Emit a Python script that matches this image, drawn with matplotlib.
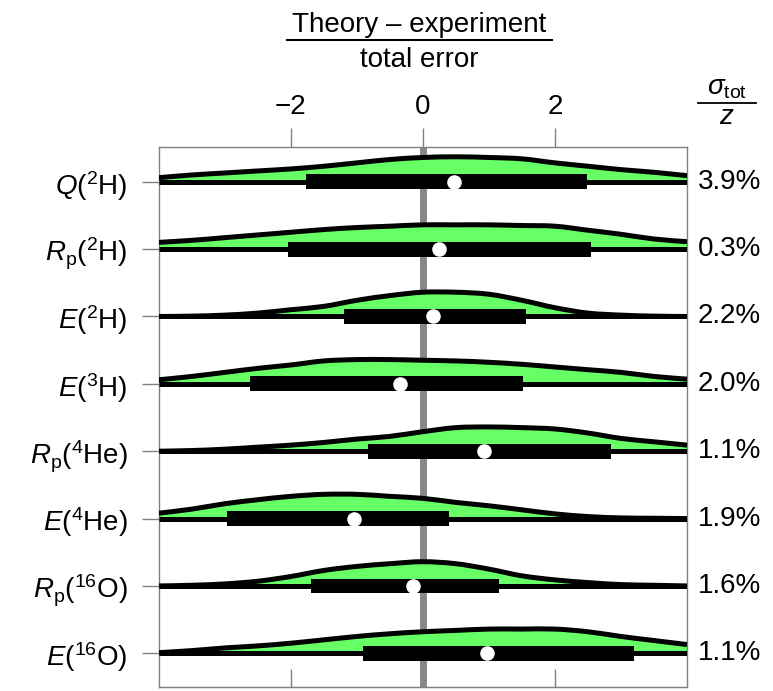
import numpy as np
import matplotlib
matplotlib.use('Agg')
import matplotlib.pyplot as plt
from matplotlib.lines import Line2D
from matplotlib.path import Path
from matplotlib.patches import PathPatch
import matplotlib.transforms as mtransforms

plt.rcParams['font.family'] = ['Liberation Sans', 'DejaVu Sans']
plt.rcParams['mathtext.fontset'] = 'custom'
plt.rcParams['mathtext.rm'] = 'Liberation Sans'
plt.rcParams['mathtext.it'] = 'Liberation Sans:italic'
plt.rcParams['mathtext.bf'] = 'Liberation Sans:bold'

# row labels, top to bottom
labels = [r'$Q(^{2}\mathrm{H})$', r'$R_{\mathrm{p}}(^{2}\mathrm{H})$',
          r'$E(^{2}\mathrm{H})$', r'$E(^{3}\mathrm{H})$',
          r'$R_{\mathrm{p}}(^{4}\mathrm{He})$', r'$E(^{4}\mathrm{He})$',
          r'$R_{\mathrm{p}}(^{16}\mathrm{O})$', r'$E(^{16}\mathrm{O})$']
sigma_pct = ['3.9%', '0.3%', '2.2%', '2.0%', '1.1%', '1.9%', '1.6%', '1.1%']

# interval (black bar) and median (white dot)
lo = [-1.77, -2.04, -1.19, -2.61, -0.83, -2.97, -1.70, -0.90]
hi = [2.49, 2.55, 1.56, 1.52, 2.85, 0.40, 1.16, 3.20]
med = [0.47, 0.25, 0.15, -0.35, 0.93, -1.04, -0.15, 0.97]

# half-violin heights (row units) at these x positions
xg = [-4, -3.5, -3, -2.5, -2, -1.5, -1, -0.5, 0, 0.5, 1, 1.5, 2, 2.5, 3, 3.5, 4]
dens = [
    [0.06, 0.10, 0.13, 0.16, 0.19, 0.23, 0.28, 0.33, 0.36, 0.37, 0.36, 0.34, 0.28, 0.23, 0.18, 0.14, 0.09],
    [0.10, 0.13, 0.17, 0.21, 0.25, 0.29, 0.32, 0.34, 0.36, 0.36, 0.36, 0.35, 0.34, 0.28, 0.22, 0.15, 0.11],
    [0.00, 0.005, 0.02, 0.05, 0.10, 0.15, 0.24, 0.31, 0.36, 0.36, 0.33, 0.24, 0.13, 0.05, 0.02, 0.005, 0.00],
    [0.06, 0.11, 0.17, 0.23, 0.28, 0.34, 0.36, 0.36, 0.35, 0.34, 0.32, 0.29, 0.25, 0.21, 0.17, 0.11, 0.07],
    [0.00, 0.01, 0.03, 0.06, 0.09, 0.13, 0.18, 0.22, 0.29, 0.35, 0.36, 0.35, 0.33, 0.27, 0.19, 0.14, 0.09],
    [0.08, 0.14, 0.22, 0.28, 0.33, 0.36, 0.36, 0.33, 0.30, 0.24, 0.19, 0.13, 0.07, 0.03, 0.01, 0.005, 0.00],
    [0.00, 0.01, 0.03, 0.07, 0.14, 0.23, 0.29, 0.33, 0.36, 0.33, 0.25, 0.15, 0.09, 0.05, 0.02, 0.01, 0.00],
    [0.01, 0.04, 0.08, 0.11, 0.15, 0.20, 0.25, 0.29, 0.32, 0.34, 0.36, 0.36, 0.36, 0.32, 0.25, 0.19, 0.13],
]


def smooth_path(xs, ys, close_at=None):
    """Cubic Bezier path through the points (Catmull-Rom style handles)."""
    p = np.column_stack([xs, ys])
    m = len(p)
    verts = [p[0]]
    codes = [Path.MOVETO]
    for k in range(m - 1):
        a = p[k - 1] if k > 0 else p[k]
        d = p[k + 2] if k + 2 < m else p[k + 1]
        c1 = p[k] + (p[k + 1] - a) / 6
        c2 = p[k + 1] - (d - p[k]) / 6
        verts += [c1, c2, p[k + 1]]
        codes += [Path.CURVE4] * 3
    if close_at is not None:
        verts += [(xs[-1], close_at), (xs[0], close_at), p[0]]
        codes += [Path.LINETO, Path.LINETO, Path.CLOSEPOLY]
    return Path(verts, codes)


W, H = 773, 691
fig = plt.figure(figsize=(W / 100, H / 100), dpi=100)
ax = fig.add_axes([158.7 / W, 1 - 687 / H, (687 - 158.7) / W, (687 - 146.7) / H])

green = '#66ff66'
grey = '#808080'
n = len(labels)
ypos = np.arange(n)[::-1]
xg = np.array(xg, dtype=float)

ax.axvline(0, color='#888888', lw=5, zorder=0.5)

for i in range(n):
    y0 = ypos[i]
    top = y0 + np.array(dens[i])
    ax.add_patch(PathPatch(smooth_path(xg, top, close_at=y0), facecolor=green,
                           edgecolor='none', zorder=1))
    ax.add_patch(PathPatch(smooth_path(xg, top), facecolor='none', edgecolor='black',
                           lw=3.6, capstyle='butt', joinstyle='round', zorder=3))
    ax.plot([-4, 4], [y0, y0], color='black', lw=3.6, solid_capstyle='butt', zorder=3)
    ax.barh(y0, hi[i] - lo[i], left=lo[i], height=0.22, color='black', zorder=4)
    ax.plot(med[i], y0, 'o', color='white', ms=10.5, mec='none', zorder=5)

ax.set_xlim(-4, 4)
ax.set_ylim(-0.5, 7.52)
for s in ax.spines.values():
    s.set_color(grey)
    s.set_linewidth(1.0)

ax.set_xticks([-2, 0, 2])
ax.set_xticklabels(['\u22122', '0', '2'])
ax.tick_params(axis='x', top=True, bottom=False, labeltop=True, labelbottom=False,
               direction='out', length=14, width=1, color=grey, labelsize=20, pad=5)
sec = ax.secondary_xaxis('bottom')
sec.set_xticks([-2, 0, 2])
sec.tick_params(direction='in', length=13, width=1, color=grey, labelbottom=False)
sec.spines['bottom'].set_color(grey)

ax.set_yticks(ypos)
ax.set_yticklabels(labels)
ax.tick_params(axis='y', left=True, right=False, direction='out', length=12.5,
               width=1, color=grey, labelsize=20, pad=10)

tr = mtransforms.blended_transform_factory(ax.transAxes, ax.transData)
for i in range(n):
    ax.text(1.02, ypos[i], sigma_pct[i], transform=tr, ha='left', va='center',
            fontsize=20)

# header fractions
fig.text(419 / W, 1 - 32 / H, 'Theory \u2013 experiment', ha='center', va='baseline', fontsize=20)
fig.text(419 / W, 1 - 67 / H, 'total error', ha='center', va='baseline', fontsize=20)
fig.add_artist(Line2D([287 / W, 552 / W], [1 - 39.5 / H, 1 - 39.5 / H], color='black', lw=1.5,
                      transform=fig.transFigure))

fig.text(727 / W, 1 - 88 / H, r'$\sigma_{\mathrm{tot}}$', ha='center', va='center', fontsize=20)
fig.text(727 / W, 1 - 117 / H, r'$z$', ha='center', va='center', fontsize=20)
fig.add_artist(Line2D([698 / W, 756 / W], [1 - 103 / H, 1 - 103 / H], color='black', lw=1.3,
                      transform=fig.transFigure))

fig.savefig('out.png', dpi=100)
